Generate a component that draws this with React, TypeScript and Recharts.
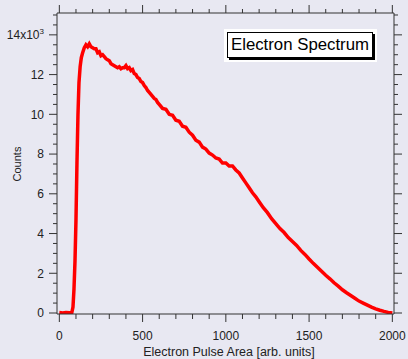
import { LineChart, Line, XAxis, YAxis } from 'recharts'

// pulse area (arb. units) and counts (x10^3)
const pulseArea = [
  0, 20, 40, 60, 75, 82, 88, 94, 100, 106, 112, 118, 125, 132, 140, 150,
  160, 170, 180, 190, 200, 210, 220, 230, 240, 250, 260, 270, 280, 290, 300,
  310, 320, 330, 340, 350, 360, 370, 380, 390, 400, 410, 420, 430, 440, 450,
  460, 470, 480, 490, 500, 510, 520, 530, 540, 550, 560, 570, 580, 590, 600,
  620, 640, 660, 680, 700, 720, 740, 760, 780, 800, 820, 840, 860, 880, 900,
  920, 940, 960, 980, 1000, 1020, 1040, 1060, 1080, 1100, 1120, 1140, 1160,
  1180, 1200, 1225, 1250, 1275, 1300, 1325, 1350, 1375, 1400, 1425, 1450,
  1475, 1500, 1525, 1550, 1575, 1600, 1625, 1650, 1675, 1700, 1725, 1750,
  1775, 1800, 1825, 1850, 1875, 1900, 1925, 1950, 1975, 2000,
]

const counts = [
  0.02, 0.0, 0.03, 0.01, 0.02, 0.3, 1.2, 2.6, 4.7, 7.6, 10.0, 11.6, 12.4, 12.85, 13.1, 13.35,
  13.5, 13.4, 13.55, 13.4, 13.35, 13.3, 13.3, 13.1, 13.15, 12.95, 13.0, 12.9, 12.8, 12.75, 12.7,
  12.55, 12.5, 12.45, 12.4, 12.35, 12.4, 12.3, 12.35, 12.35, 12.45, 12.3, 12.35, 12.2, 12.25, 12.05,
  12.0, 11.85, 11.8, 11.65, 11.6, 11.45, 11.35, 11.2, 11.1, 11.0, 10.9, 10.8, 10.75, 10.6, 10.5,
  10.3, 10.25, 10.0, 9.95, 9.7, 9.65, 9.4, 9.35, 9.1, 8.95, 8.7, 8.6, 8.35, 8.25, 8.05,
  7.95, 7.8, 7.75, 7.55, 7.55, 7.4, 7.4, 7.2, 7.05, 6.8, 6.55, 6.3, 6.05,
  5.85, 5.6, 5.3, 5.05, 4.75, 4.5, 4.25, 4.05, 3.8, 3.6, 3.4, 3.15,
  2.95, 2.72, 2.5, 2.3, 2.1, 1.9, 1.72, 1.52, 1.35, 1.17, 1.02, 0.88,
  0.74, 0.6, 0.5, 0.4, 0.3, 0.21, 0.14, 0.08, 0.03, 0.0,
]

const xTicks = [
  0, 100, 200, 300, 400, 500, 600, 700, 800, 900, 1000,
  1100, 1200, 1300, 1400, 1500, 1600, 1700, 1800, 1900, 2000,
]
const yTicks = [
  0, 0.5, 1, 1.5, 2, 2.5, 3, 3.5, 4, 4.5, 5, 5.5, 6, 6.5, 7, 7.5,
  8, 8.5, 9, 9.5, 10, 10.5, 11, 11.5, 12, 12.5, 13, 13.5, 14, 14.5, 15,
]

const data = pulseArea.map((x, i) => ({ x, y: counts[i] }))

const FONT = '"Liberation Sans", Arial, sans-serif'
const INK = '#222'
const AXIS = '#333'
const BG = '#E8E8F2'

// tick helpers: one axis per side, long ticks on majors, label only on bottom/left
function BottomTick({ x, y, payload }: any) {
  const major = payload.value % 500 === 0
  return (
    <g>
      <line x1={x} x2={x} y1={y} y2={y + (major ? 8 : 5)} stroke={AXIS} />
      {major && (
        <text x={x} y={y + 26} textAnchor="middle" fontSize={12} fontFamily={FONT} fill={INK}>
          {payload.value}
        </text>
      )}
    </g>
  )
}

function TopTick({ x, y, payload }: any) {
  const major = payload.value % 500 === 0
  return <line x1={x} x2={x} y1={y} y2={y - (major ? 8 : 4)} stroke={AXIS} />
}

function LeftTick({ x, y, payload }: any) {
  const v = payload.value
  const major = v % 2 === 0
  return (
    <g>
      <line x1={x} x2={x - (major ? 8 : 4)} y1={y} y2={y} stroke={AXIS} />
      {major && (
        <text x={x - 13} y={y} dy="0.36em" textAnchor="end" fontSize={12} fontFamily={FONT} fill={INK}>
          {v === 14 ? (
            <>
              <tspan>14x10</tspan>
              <tspan dy={-5} fontSize={8}>3</tspan>
            </>
          ) : (
            v
          )}
        </text>
      )}
    </g>
  )
}

function RightTick({ x, y, payload }: any) {
  const major = payload.value % 2 === 0
  return <line x1={x} x2={x + (major ? 8 : 4)} y1={y} y2={y} stroke={AXIS} />
}

export default function App() {
  return (
    <div
      style={{
        position: 'absolute',
        left: 0,
        top: 0,
        width: 408,
        height: 359,
        background: BG,
        fontFamily: FONT,
        color: INK,
      }}
    >
      <LineChart
        width={408}
        height={359}
        data={data}
        margin={{ top: 12, right: 13, bottom: 44, left: 56 }}
      >
        <XAxis
          dataKey="x"
          type="number"
          domain={[-14, 2010]}
          ticks={xTicks}
          interval={0}
          height={1}
          tickSize={0}
          tickMargin={0}
          tickLine={false}
          tick={<BottomTick />}
          stroke={AXIS}
          allowDataOverflow
        />
        <XAxis
          xAxisId="top"
          orientation="top"
          dataKey="x"
          type="number"
          domain={[-14, 2010]}
          ticks={xTicks}
          interval={0}
          height={1}
          tickSize={0}
          tickMargin={0}
          tickLine={false}
          tick={<TopTick />}
          stroke={AXIS}
          allowDataOverflow
        />
        <YAxis
          type="number"
          domain={[-0.05, 15.1]}
          ticks={yTicks}
          interval={0}
          width={1}
          tickSize={0}
          tickMargin={0}
          tickLine={false}
          tick={<LeftTick />}
          stroke={AXIS}
          allowDataOverflow
        />
        <YAxis
          yAxisId="right"
          orientation="right"
          type="number"
          domain={[-0.05, 15.1]}
          ticks={yTicks}
          interval={0}
          width={1}
          tickSize={0}
          tickMargin={0}
          tickLine={false}
          tick={<RightTick />}
          stroke={AXIS}
          allowDataOverflow
        />
        <Line
          type="linear"
          dataKey="y"
          stroke="#FF0000"
          strokeWidth={3.5}
          dot={false}
          isAnimationActive={false}
        />
      </LineChart>

      {/* axis titles */}
      <div
        style={{
          position: 'absolute',
          left: 129,
          top: 346,
          width: 200,
          textAlign: 'center',
          fontSize: 12.5,
          lineHeight: '12.5px',
        }}
      >
        Electron Pulse Area [arb. units]
      </div>
      <div
        style={{
          position: 'absolute',
          left: -13,
          top: 158,
          width: 60,
          height: 12,
          textAlign: 'center',
          fontSize: 11,
          lineHeight: '12px',
          transform: 'rotate(-90deg)',
        }}
      >
        Counts
      </div>

      {/* legend-style text box */}
      <div
        style={{
          position: 'absolute',
          left: 224,
          top: 29,
          width: 153,
          height: 33,
          background: '#fff',
        }}
      />
      <div
        style={{
          position: 'absolute',
          left: 227,
          top: 32,
          width: 144,
          height: 24,
          border: '1px solid #000',
          background: '#fff',
          boxShadow: '2px 2px 0 #000',
          display: 'flex',
          alignItems: 'center',
          justifyContent: 'center',
          fontSize: 16.8,
          color: '#000',
        }}
      >
        Electron Spectrum
      </div>
    </div>
  )
}
